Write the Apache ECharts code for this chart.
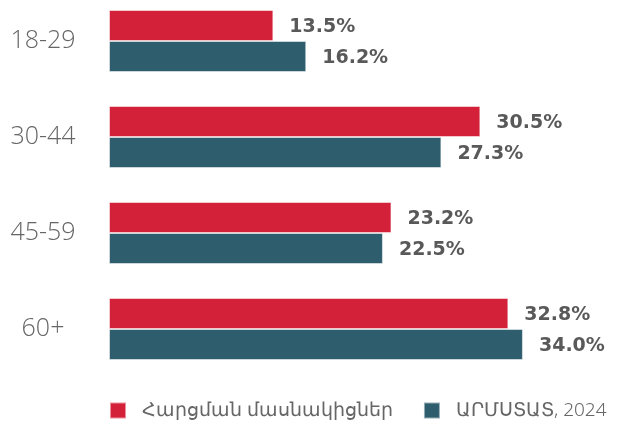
<!DOCTYPE html>
<html>
<head>
<meta charset="utf-8">
<script src="https://cdn.jsdelivr.net/npm/echarts@6/dist/echarts.min.js"></script>
<style>
  html, body { margin: 0; padding: 0; background: #fff; }
  #chart { width: 628px; height: 424px; }
</style>
</head>
<body>
<div id="chart"></div>
<script>
var ageGroups = ['18-29', '30-44', '45-59', '60+'];
var surveyShare = [13.5, 30.5, 23.2, 32.8];
var armstatShare = [16.2, 27.3, 22.5, 34.0];
var seriesNames = ['Հարցման մասնակիցներ', 'ԱՐՄՍՏԱՏ, 2024'];

(function() {
    "use strict";

    var valueLabel = {
        show: true,
        position: 'right',
        distance: 16,
        offset: [0, 2],
        color: '#595959',
        fontFamily: 'DejaVu Sans',
        fontWeight: 'bold',
        fontSize: 19,
        formatter: function(p) {
            return p.value.toFixed(1) + '%';
        }
    };

    var options = {
        animation: false,
        grid: {
            left: 109,
            right: 32,
            top: 41,
            bottom: 95,
            containLabel: false
        },
        xAxis: {
            type: 'value',
            min: 0,
            max: 40,
            show: false
        },
        yAxis: {
            type: 'category',
            data: ageGroups,
            inverse: true,
            boundaryGap: false,
            axisLine: { show: false },
            axisTick: { show: false },
            splitLine: { show: false },
            axisLabel: {
                align: 'center',
                margin: 66,
                color: '#666',
                fontFamily: 'Open Sans',
                fontWeight: 300,
                fontSize: 25
            }
        },
        legend: {
            left: 109,
            top: 401,
            padding: 0,
            icon: 'rect',
            itemWidth: 16,
            itemHeight: 16,
            itemGap: 30,
            textStyle: {
                color: '#666',
                fontFamily: 'Noto Sans',
                fontWeight: 300,
                fontSize: 19,
                padding: [0, 0, 0, 11]
            },
            data: seriesNames
        },
        series: [
            {
                name: seriesNames[0],
                type: 'bar',
                data: surveyShare,
                barWidth: 31,
                barGap: '0%',
                itemStyle: {
                    color: '#D4213A',
                    borderColor: 'rgba(255,255,255,0.5)',
                    borderWidth: 1
                },
                label: valueLabel
            },
            {
                name: seriesNames[1],
                type: 'bar',
                data: armstatShare,
                barWidth: 31,
                barGap: '0%',
                itemStyle: {
                    color: '#2E5D6E',
                    borderColor: 'rgba(255,255,255,0.5)',
                    borderWidth: 1
                },
                label: valueLabel
            }
        ]
    };

    var chart = echarts.init(document.getElementById('chart'));
    chart.setOption(options);
})();
</script>
</body>
</html>
